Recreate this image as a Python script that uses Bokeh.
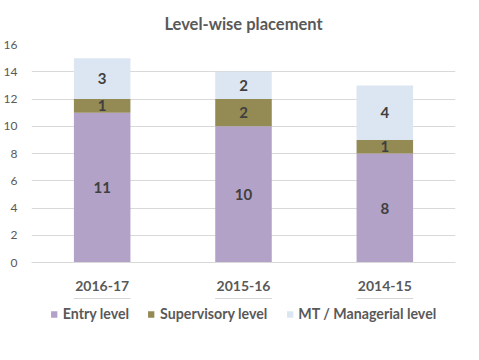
from bokeh.plotting import figure
from bokeh.models import ColumnDataSource, LabelSet, Legend, LegendItem, Range1d
from bokeh.core.properties import value
from bokeh.layouts import column
from bokeh.embed import file_html
from bokeh.resources import INLINE

years = ["2016-17", "2015-16", "2014-15"]
entry = [11, 10, 8]
supervisory = [1, 2, 1]
managerial = [3, 2, 4]
series = ["Entry level", "Supervisory level", "MT / Managerial level"]
colors = ["#B3A2C7", "#948A54", "#DCE6F2"]
y_ticks = [0, 2, 4, 6, 8, 10, 12, 14, 16]

FONT = "Lato"

src = ColumnDataSource(dict(years=years, entry=entry, sup=supervisory, mgr=managerial))

p = figure(x_range=years, y_range=Range1d(0, 16), width=471, height=298,
           output_backend="svg", toolbar_location=None,
           min_border_left=22, min_border_right=16, min_border_top=0, min_border_bottom=36)
p.title.text = "Level-wise placement"
p.title.align = "center"
p.title.text_font = FONT
p.title.text_font_size = "16.5px"
p.title.text_font_style = "bold"
p.title.text_color = "#595959"
p.title.standoff = 22
p.title.offset = 7

renderers = p.vbar_stack(["entry", "sup", "mgr"], x="years", width=0.4, color=colors,
                         source=src, line_color=None)

mid_e = [e / 2 for e in entry]
mid_s = [e + s / 2 for e, s in zip(entry, supervisory)]
mid_m = [e + s + m / 2 for e, s, m in zip(entry, supervisory, managerial)]
lsrc = ColumnDataSource(dict(
    x=years * 3,
    y=mid_e + mid_s + mid_m,
    t=[str(v) for v in entry + supervisory + managerial],
))
p.add_layout(LabelSet(x="x", y="y", text="t", source=lsrc, text_align="center",
                      text_baseline="middle", text_font=value(FONT),
                      text_font_size=value("15px"), text_font_style=value("bold"),
                      text_color=value("#404040")))

p.xgrid.grid_line_color = None
p.ygrid.grid_line_color = "#D9D9D9"
p.ygrid.ticker = y_ticks
p.yaxis.ticker = y_ticks
p.yaxis.axis_line_color = None
p.yaxis.major_tick_line_color = None
p.yaxis.minor_tick_line_color = None
p.yaxis.major_label_text_font = FONT
p.yaxis.major_label_text_font_size = "12px"
p.yaxis.major_label_text_color = "#595959"
p.yaxis.major_label_standoff = 8

p.xaxis.axis_line_color = "#D9D9D9"
p.xaxis.major_tick_line_color = None
p.xaxis.major_label_text_font = FONT
p.xaxis.major_label_text_font_size = "14px"
p.xaxis.major_label_text_font_style = "bold"
p.xaxis.major_label_text_color = "#595959"
p.xaxis.major_label_standoff = 12
p.x_range.range_padding = 0.0
p.outline_line_color = None

# legend panel: same bars, drawn outside its visible range so only the legend shows
lg = figure(x_range=years, y_range=Range1d(-2, -1), width=471, height=54,
            output_backend="svg", toolbar_location=None,
            min_border_left=0, min_border_right=0, min_border_top=0, min_border_bottom=0)
lg.axis.visible = False
lg.grid.visible = False
lg.outline_line_color = None
lrs = lg.vbar_stack(["entry", "sup", "mgr"], x="years", width=0.4, color=colors,
                    source=src, line_color=None)
legend = Legend(items=[LegendItem(label=s, renderers=[r]) for s, r in zip(series, lrs)],
                orientation="horizontal", location="top_center")
legend.label_text_font = FONT
legend.label_text_font_size = "14.2px"
legend.label_text_font_style = "bold"
legend.label_text_color = "#595959"
legend.glyph_width = 8
legend.glyph_height = 8
legend.spacing = 18
legend.label_standoff = 5
legend.border_line_color = None
legend.background_fill_alpha = 0
legend.padding = 0
legend.margin = 7
lg.add_layout(legend)

open("out.html", "w").write(file_html(column(p, lg, spacing=0), INLINE))
